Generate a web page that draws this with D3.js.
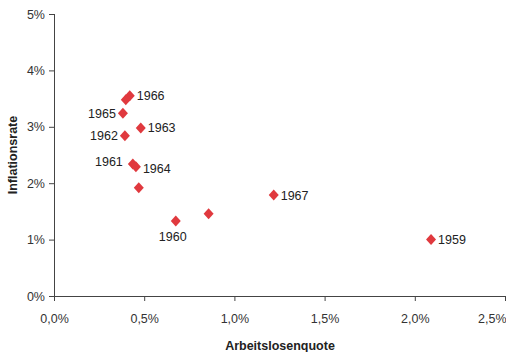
<!DOCTYPE html>
<html><head><meta charset="utf-8">
<script src="https://cdn.jsdelivr.net/npm/d3@7"></script>
<style>body{margin:0;background:#fff}svg{display:block}text{font-family:"Liberation Sans",Arial,sans-serif}</style>
</head><body>
<svg id="c" width="506" height="352"></svg>
<script>
const years = ["1959","1960","1961","1962","1963","1964","1965","1966","","","",  "1967"];
const unemployment = [2.09,0.675,0.437,0.393,0.481,0.454,0.382,0.42,0.398,0.47,0.857,1.218];
const inflation =    [1.00,1.33,2.34,2.84,2.98,2.29,3.24,3.55,3.48,1.92,1.46,1.79];
const labelPos = ["right","below","upleft","left","right","downright","left","right","","","","right"];
const xTicks = [0,0.5,1,1.5,2,2.5];
const yTicks = [0,1,2,3,4,5];

const svg = d3.select("#c");
const x = d3.scaleLinear().domain([0,2.5]).range([54,505]);
const y = d3.scaleLinear().domain([0,5]).range([296,14]);
const fmtX = d => d3.format(".1f")(d).replace(".",",")+"%";
const fmtY = d => d+"%";

const xa = svg.append("g").attr("transform","translate(0,296)")
  .call(d3.axisBottom(x).tickValues(xTicks).tickFormat(fmtX).tickSize(5).tickPadding(13));
const ya = svg.append("g").attr("transform","translate(54,0)")
  .call(d3.axisLeft(y).tickValues(yTicks).tickFormat(fmtY).tickSize(5).tickPadding(4));
[xa,ya].forEach(a=>{
  a.selectAll("line").attr("stroke","#444");
  a.selectAll("text").attr("fill","#333").style("font-size","12.5px");
  a.select("path.domain").remove();
});
// keep last x label inside the picture
xa.selectAll(".tick").filter(d=>d===2.5).select("text").attr("text-anchor","end").attr("x",1);
svg.append("line").attr("x1",54).attr("x2",506).attr("y1",296.5).attr("y2",296.5).attr("stroke","#444");
svg.append("line").attr("x1",54.5).attr("x2",54.5).attr("y1",14).attr("y2",296).attr("stroke","#444");

const pts = years.map((yr,i)=>({yr, ux:unemployment[i], inf:inflation[i], pos:labelPos[i]}));
svg.append("g").selectAll("path").data(pts).join("path")
  .attr("transform", d=>`translate(${x(d.ux)},${y(d.inf)})`)
  .attr("d","M0,-5.5L5,0L0,5.5L-5,0Z")
  .attr("fill","#e0393e");

const off = {right:[7,4.5,"start"], left:[-7,4.5,"end"], below:[-3,20.5,"middle"], upleft:[-10,2,"end"], downright:[7,6,"start"]};
svg.append("g").selectAll("text").data(pts.filter(d=>d.yr)).join("text")
  .attr("x", d=>x(d.ux)+off[d.pos][0])
  .attr("y", d=>y(d.inf)+off[d.pos][1])
  .attr("text-anchor", d=>off[d.pos][2])
  .attr("fill","#222").style("font-size","12.5px")
  .text(d=>d.yr);

svg.append("text").attr("x",280).attr("y",350).attr("text-anchor","middle")
  .style("font-size","12.5px").style("font-weight","bold").attr("fill","#222").text("Arbeitslosenquote");
svg.append("text").attr("transform","translate(17,155) rotate(-90)").attr("text-anchor","middle")
  .style("font-size","12.5px").style("font-weight","bold").attr("fill","#222").text("Inflationsrate");
</script>
</body></html>
